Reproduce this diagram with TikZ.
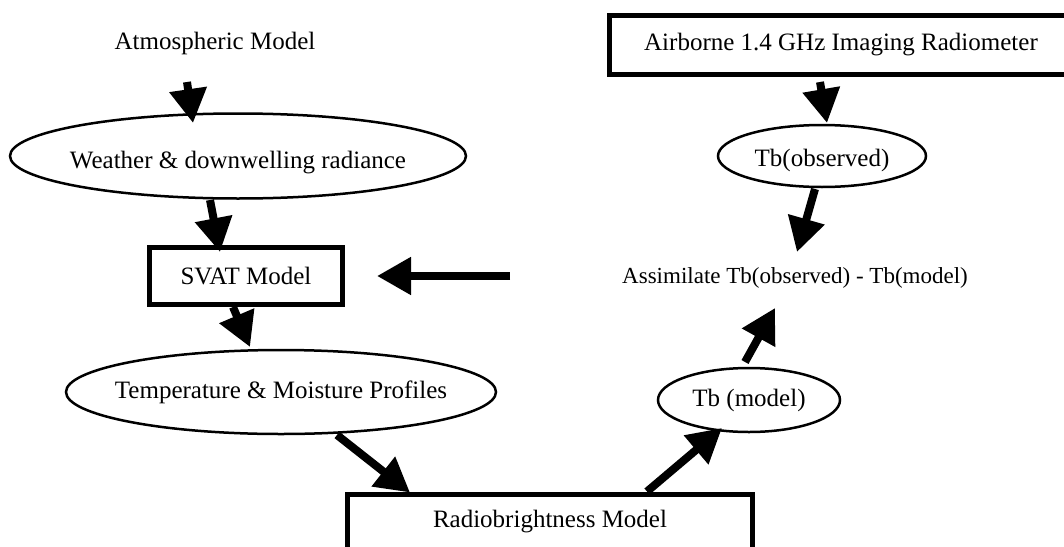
\documentclass[tikz,border=0pt]{standalone}
\usepackage{fontspec}
\setmainfont{Liberation Serif}
\usetikzlibrary{arrows.meta,shapes.geometric}
% zero-width text so that an oval keeps the size it is given
\newcommand{\ovaltext}[1]{\makebox[0pt]{#1}}
\begin{document}
\begin{tikzpicture}[x=1pt,y=-1pt,
  txt/.style={inner sep=0pt,font=\fontsize{25}{30}\selectfont},
  oval/.style={txt,ellipse,draw,line width=2.5pt},
  frame/.style={txt,draw,line width=5pt},
  droptext/.style={text height=#1,text depth=5.5pt},
  flow/.style={line width=8pt,-{Triangle[length=34pt,width=36pt]}}]
\useasboundingbox (0,0) rectangle (1064,546);
\fill[white] (0,0) rectangle (1064,546);
\clip (0,0) rectangle (1064,546);

% model chain on the left
\node[txt] (atm) at (215,43) {Atmospheric Model};
\node[oval,droptext=31pt,minimum width=456pt,minimum height=85pt] (weather) at (238,156) {\ovaltext{Weather \& downwelling radiance}};
\node[frame,minimum width=193pt,minimum height=57pt] (svat) at (246,276) {SVAT Model};
\node[oval,minimum width=430pt,minimum height=84pt] (temp) at (281,392) {\ovaltext{Temperature \& Moisture Profiles}};
\node[frame,anchor=north,minimum width=405pt,minimum height=130pt] (radio) at (550,491.5) {};
\node[txt] (radiotext) at (550,522) {Radiobrightness Model};

% observation chain on the right
\node[frame,minimum width=463pt,minimum height=59pt] (air) at (841,45) {Airborne 1.4 GHz Imaging Radiometer};
\node[oval,droptext=27pt,minimum width=208pt,minimum height=62pt] (tbobs) at (822,156) {\ovaltext{Tb(observed)}};
\node[txt,font=\fontsize{23}{28}\selectfont] (assim) at (795,278) {Assimilate Tb(observed) - Tb(model)};
\node[oval,minimum width=182pt,minimum height=64pt] (tbmod) at (749,400) {\ovaltext{Tb (model)}};

% connectors
\draw[flow] ([shift={(-28,39)}]atm.center) -- ([shift={(-45,-33)}]weather.center);
\draw[flow] ([shift={(-28,44)}]weather.center) -- ([shift={(-26,-24)}]svat.center);
\draw[flow] ([shift={(-13,31)}]svat.center) -- ([shift={(-31,-45)}]temp.center);
\draw[flow] ([shift={(56,43)}]temp.center) -- ([shift={(-140,1)}]radio.north);
\draw[flow] ([shift={(97,0)}]radio.north) -- ([shift={(-27,28)}]tbmod.center);
\draw[flow] ([shift={(-4,-38)}]tbmod.center) -- ([shift={(-20,30)}]assim.center);
\draw[flow] ([shift={(-7,33)}]tbobs.center) -- ([shift={(2,-26)}]assim.center);
\draw[flow] ([shift={(-21,37)}]air.center) -- ([shift={(5,-33)}]tbobs.center);
\draw[flow] ([xshift=165pt]svat.east) -- ([xshift=32pt]svat.east);
\end{tikzpicture}
\end{document}
